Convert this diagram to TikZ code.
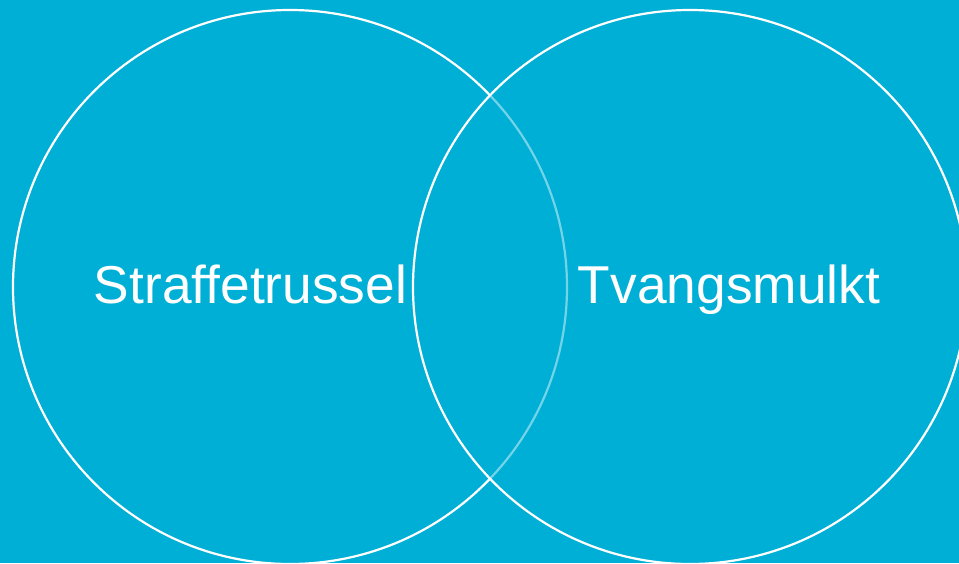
\documentclass[tikz,border=0pt]{standalone}
\usepackage{fontspec}
\setmainfont{Liberation Sans}
\usepackage{tikz}
\definecolor{vennblue}{RGB}{0,175,214}

\begin{document}
\begin{tikzpicture}[x=1pt,y=-1pt]
  % Background
  \useasboundingbox (0,0) rectangle (959,563);
  \fill[vennblue] (0,0) rectangle (959,563);
  \clip (0,0) rectangle (959,563);

  % Left circle
  \draw[white, line width=2.2pt] (290,287) circle[radius=277];
  % Right circle (veils the left rim)
  \fill[vennblue, fill opacity=0.55] (690,287) circle[radius=277];
  \draw[white, line width=2.2pt] (690,287) circle[radius=277];

  % Labels
  \node[font=\fontsize{53.3}{64}\selectfont, text=white, anchor=base, inner sep=0pt] (straf) at (250.5,303) {Straffetrussel};
  \node[font=\fontsize{53.3}{64}\selectfont, text=white, anchor=base, inner sep=0pt] (tvang) at (729,303) {Tvangsmulkt};
\end{tikzpicture}
\end{document}
